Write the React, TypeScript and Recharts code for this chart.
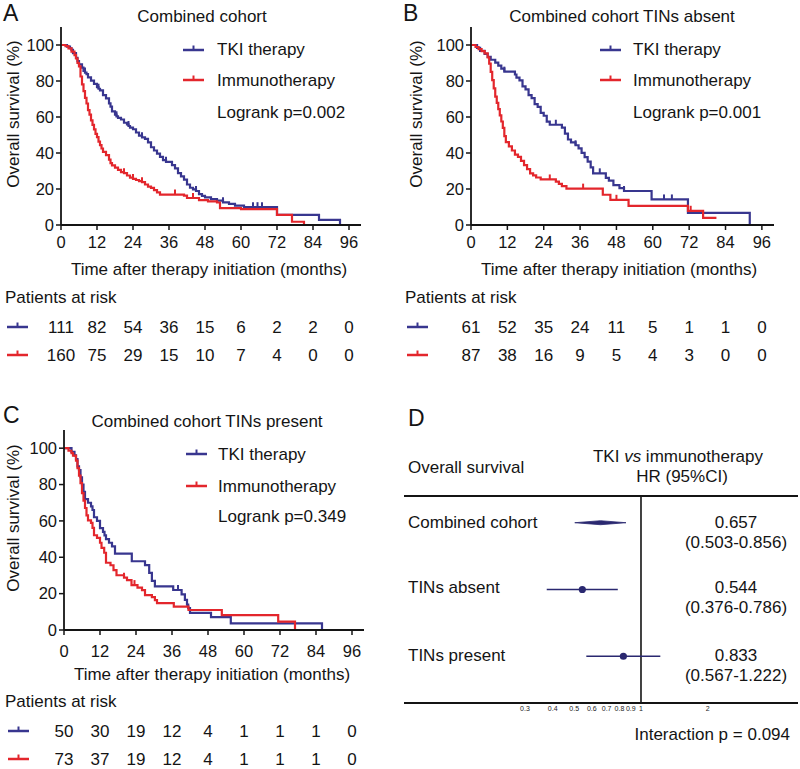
import React from 'react';
import {
  LineChart,
  Line,
  XAxis,
  YAxis,
  ComposedChart,
  Scatter,
  ErrorBar,
  Area,
  ReferenceLine,
} from 'recharts';

const FONT = "'Liberation Sans', Arial, Helvetica, sans-serif";
const INK = '#141414';
const BLUE = '#38368f';
const RED = '#e3262c';
const NAVY = '#2a2870';

const monthTicks = [0, 12, 24, 36, 48, 60, 72, 84, 96];
const survivalTicks = [0, 20, 40, 60, 80, 100];

// KM steps: [month, survival %, censored]
const aTki = [
  [0, 100], [2, 99.1], [3, 98.2], [3.5, 97.3], [4, 95.5], [5, 92.8], [5.5, 91], [6, 89.2], [7, 87.4],
  [7.5, 85.6], [8, 84.7, 1], [8.5, 83.8], [9, 82], [10, 80.2], [11, 78.4], [12, 76.6], [12.5, 75.7, 1],
  [13, 74.8], [14, 72.1], [15, 70.3], [16, 67.6], [16.5, 65.8], [17, 63.1], [18, 61.3], [18.5, 60.4, 1],
  [19, 59.5], [20, 58.6], [21, 56.8], [22, 55.9], [22.5, 55, 1], [23, 54.1], [24, 53.2], [25, 51.4],
  [26, 49.6], [27, 48.7, 1], [28, 47.8], [29, 45.9], [30, 43.2], [31, 41.4], [32, 39.6], [33, 37.8],
  [34, 36], [35, 35.1, 1], [37, 33.3], [38, 31.5], [39, 28.8], [40, 27], [41, 25.2], [42, 22.5],
  [43, 20.7], [44, 19.8], [45, 18.9, 1], [46, 17.1], [47, 16.2], [48, 15.3], [50, 14.4], [52, 13.5],
  [54, 12.6, 1], [56, 11.7], [58, 10.8], [61, 9.9], [64, 9.9, 1], [65.5, 9.9, 1], [67, 9.9, 1],
  [72, 5.6], [86, 2.8], [93, 0],
];
const aImmuno = [
  [0, 100], [1.5, 99.4], [2.5, 98.1], [3.5, 96.3], [4.5, 94.4], [5, 92.5], [5.5, 90], [6, 88.1],
  [6.5, 82.5], [7, 78.1], [7.5, 74.4], [8, 70.6], [8.5, 67.5], [9, 63.8], [9.5, 61.3], [10, 58.1],
  [10.5, 55.6], [11, 53.1], [11.5, 50.6], [12, 48.8], [12.5, 46.3], [13, 44.4], [13.5, 42.5], [14, 40.6],
  [15, 38.8], [16, 36.3], [16.5, 34.4], [17, 33.1], [18, 31.9], [19, 30.6], [20, 29.4], [21, 28.8, 1],
  [22, 27.5], [23, 26.3], [24, 25.6, 1], [25, 25], [26, 24.4], [27, 23.8, 1], [28, 22.5], [29, 21.3],
  [30, 20.6], [31, 19.4], [32, 18.1], [33, 16.9], [38, 16.9, 1], [41, 16.3], [42, 15], [44, 15, 1],
  [46, 13.8], [49, 13.1], [52, 12.5], [53, 9.4], [60, 8.8], [72, 5.6], [77, 1.8], [81, 0],
];
const bTki = [
  [0, 100], [2, 98.4], [3, 96.7], [4.5, 95.1], [5.5, 93.4], [6.5, 91.8], [8, 90.2], [9, 88.5], [10, 86.9],
  [11, 85.2, 1], [14.5, 83.6], [15, 81.9], [16, 80.3], [17, 77], [18, 75.4], [19, 72.1], [20, 70.5],
  [21, 67.2], [22, 65.6], [23, 62.3], [24, 60.7], [25, 57.4], [26, 55.7], [28, 55.7, 1], [30, 54.1],
  [31, 50.8], [32, 47.5], [33, 45.9], [34.5, 44.3, 1], [35.5, 42.6], [36.5, 40.1], [37.5, 37.7],
  [38.5, 35.2], [39.5, 32], [40.3, 28.7], [42.5, 28.7, 1], [44.5, 26.2], [45.5, 24.6], [47, 22.1],
  [49, 20.5], [50.5, 18.9, 1], [59.6, 14.2], [63.7, 14.2, 1], [66.3, 14.2, 1], [71.6, 6.7], [92, 0],
];
const bImmuno = [
  [0, 100], [1.5, 98.9], [2.5, 97.7], [3.5, 96.6], [4.5, 95.4], [5.5, 93.1], [6, 89.7], [6.5, 85.1],
  [7, 80.5], [7.5, 75.9], [8, 71.3], [8.5, 67.8], [9, 64.4], [9.5, 60.9], [10, 57.5], [10.5, 54],
  [11, 49.4], [11.5, 46], [12.5, 43.7], [13.5, 41.4], [14.5, 39.1], [15.5, 37.9], [16.5, 35.6],
  [17.5, 33.3], [18.5, 31], [19.5, 28.7], [20.5, 27.6], [21.5, 26.4], [23, 25.3], [26, 25.3, 1],
  [28, 24.1], [29, 22.9], [30, 21.6], [31.5, 20.2], [37, 20.2, 1], [43.5, 16.8], [46, 14], [48, 14, 1],
  [52, 10.6], [71.6, 7.9], [72.5, 7.9, 1], [76.6, 4], [81, 4],
];
const cTki = [
  [0, 100], [2.5, 98], [3.5, 96], [4, 94], [4.5, 90], [5, 88], [5.5, 84], [6, 80], [6.5, 76], [7, 72],
  [8, 70], [9, 68], [9.5, 66], [10, 62], [11, 60], [12, 56], [13, 54], [13.5, 52], [14, 50], [15, 48],
  [16, 46], [17, 42], [22.6, 37.8], [27, 35.7], [28.4, 31.4], [29.3, 27], [30.3, 24], [36.4, 22],
  [38, 22, 1], [39.2, 19.6], [40.3, 16.6], [41, 14, 1], [41.4, 12], [42, 9.4], [49, 7.1], [55.6, 3.6],
  [86, 0],
];
const cImmuno = [
  [0, 100], [1.5, 98.6], [2.5, 97.3], [3, 95.9], [4, 93.2], [4.5, 89], [5, 84.9], [5.5, 80.8], [6, 75.3],
  [6.5, 71.2], [7, 67.1], [7.5, 63], [8, 60.3], [9, 58.9], [9.5, 56.2], [10, 52.1], [11, 50.7], [12, 48],
  [12.5, 45.2], [13.4, 42.5], [14, 37], [15.5, 35.6], [16.5, 32.9], [17.5, 30.1], [20, 28.8, 1],
  [21, 27.4], [22.5, 24.7], [23.5, 24.7, 1], [24.5, 23.3], [26, 21.9], [27, 19.2], [29.3, 18.1],
  [30.3, 16.4], [31, 14.8], [36.6, 12.9], [41.5, 11], [52.6, 8.2], [71.4, 4.6], [77, 0],
];

const aRiskTki = [111, 82, 54, 36, 15, 6, 2, 2, 0];
const aRiskImmuno = [160, 75, 29, 15, 10, 7, 4, 0, 0];
const bRiskTki = [61, 52, 35, 24, 11, 5, 1, 1, 0];
const bRiskImmuno = [87, 38, 16, 9, 5, 4, 3, 0, 0];
const cRiskTki = [50, 30, 19, 12, 4, 1, 1, 1, 0];
const cRiskImmuno = [73, 37, 19, 12, 4, 1, 1, 1, 0];

const forestGroups = ['Combined cohort', 'TINs absent', 'TINs present'];
const forestHr = [0.657, 0.544, 0.833];
const forestLow = [0.503, 0.376, 0.567];
const forestHigh = [0.856, 0.786, 1.222];
const forestRow = [3, 2, 1];
const hrTicks = [0.3, 0.4, 0.5, 0.6, 0.7, 0.8, 0.9, 1, 2];

const toRows = (arr: number[][]) => arr.map(([t, s, c]) => ({ t, s, c: !!c }));

const censorDot = (color: string) => (p: any) => {
  if (!p.payload || !p.payload.c) return <g key={p.index} />;
  return (
    <path key={p.index} d={`M${p.cx},${p.cy} V${p.cy - 5}`} stroke={color} strokeWidth={2} />
  );
};

function Txt({ x, y, size = 17, anchor = 'start', children, style }: any) {
  const shift = anchor === 'middle' ? 'translateX(-50%)' : anchor === 'end' ? 'translateX(-100%)' : undefined;
  return (
    <div
      style={{
        position: 'absolute',
        left: x,
        top: y - size / 2,
        fontSize: size,
        lineHeight: `${size}px`,
        whiteSpace: 'nowrap',
        transform: shift,
        color: INK,
        ...style,
      }}
    >
      {children}
    </div>
  );
}

function Marker({ x, y, w = 21, color }: any) {
  return (
    <svg style={{ position: 'absolute', left: x, top: y - 6 }} width={w} height={9}>
      <line x1={0} x2={w} y1={6} y2={6} stroke={color} strokeWidth={2.5} />
      <line x1={w / 2} x2={w / 2} y1={6} y2={1.5} stroke={color} strokeWidth={2} />
    </svg>
  );
}

function YLabel({ x, y }: any) {
  return (
    <div
      style={{
        position: 'absolute',
        left: x,
        top: y,
        fontSize: 17,
        lineHeight: '17px',
        whiteSpace: 'nowrap',
        color: INK,
        transform: 'translate(-50%, -50%) rotate(-90deg)',
      }}
    >
      Overall survival (%)
    </div>
  );
}

function KmPanel(props: any) {
  const { left, top, width, height, margin, yAxisWidth, tki, immuno, riskTki, riskImmuno, labelDy, row1Dy, row2Dy } = props;
  const renderTick = (p: any) => {
    const i = monthTicks.indexOf(p.payload.value);
    return (
      <g key={`t${p.payload.value}`} fontFamily={FONT} fill={INK} textAnchor="middle">
        <text x={p.x} y={p.y + labelDy} fontSize={16.5}>{p.payload.value}</text>
        <text x={p.x} y={p.y + row1Dy} fontSize={17}>{riskTki[i]}</text>
        <text x={p.x} y={p.y + row2Dy} fontSize={17}>{riskImmuno[i]}</text>
      </g>
    );
  };
  return (
    <div style={{ position: 'absolute', left, top }}>
      <LineChart width={width} height={height} margin={margin}>
        <XAxis
          type="number"
          dataKey="t"
          domain={[0, 100]}
          ticks={monthTicks}
          interval={0}
          tickSize={5}
          tick={renderTick}
          height={30}
          allowDataOverflow
          axisLine={{ stroke: INK, strokeWidth: 1.8 }}
          tickLine={{ stroke: INK, strokeWidth: 1.5 }}
        />
        <YAxis
          type="number"
          domain={[0, 110]}
          ticks={survivalTicks}
          interval={0}
          tickSize={5}
          width={yAxisWidth}
          allowDataOverflow
          tick={{ fontSize: 16.5, fill: INK, fontFamily: FONT }}
          axisLine={{ stroke: INK, strokeWidth: 1.8 }}
          tickLine={{ stroke: INK, strokeWidth: 1.5 }}
        />
        <Line
          data={toRows(tki)}
          dataKey="s"
          type="stepAfter"
          stroke={BLUE}
          strokeWidth={2.2}
          dot={censorDot(BLUE)}
          activeDot={false}
          isAnimationActive={false}
        />
        <Line
          data={toRows(immuno)}
          dataKey="s"
          type="stepAfter"
          stroke={RED}
          strokeWidth={2.2}
          dot={censorDot(RED)}
          activeDot={false}
          isAnimationActive={false}
        />
      </LineChart>
    </div>
  );
}

function ForestPanel() {
  const points = forestGroups
    .map((name, i) => ({
      name,
      x: forestHr[i],
      y: forestRow[i],
      err: [forestHr[i] - forestLow[i], forestHigh[i] - forestHr[i]],
    }))
    .slice(1);
  // combined cohort drawn as a thin diamond spanning its CI
  const half = 0.03;
  const diamond = [
    { x: forestLow[0], r: [forestRow[0], forestRow[0]] },
    { x: forestHr[0], r: [forestRow[0] - half, forestRow[0] + half] },
    { x: forestHigh[0], r: [forestRow[0], forestRow[0]] },
  ];
  return (
    <div style={{ position: 'absolute', left: 400, top: 480 }}>
      <ComposedChart width={400} height={240} margin={{ top: 15, right: 2, left: 4, bottom: 3 }}>
        <XAxis
          type="number"
          dataKey="x"
          scale="log"
          domain={[0.0855, 5.1]}
          ticks={hrTicks}
          interval={0}
          tickSize={0}
          tickMargin={3}
          tickLine={false}
          height={14}
          allowDataOverflow
          tick={{ fontSize: 7, fill: '#222', fontFamily: FONT }}
          axisLine={{ stroke: INK, strokeWidth: 2.2 }}
        />
        <XAxis
          xAxisId="top"
          orientation="top"
          type="number"
          dataKey="x"
          scale="log"
          domain={[0.0855, 5.1]}
          tick={false}
          tickLine={false}
          height={1}
          allowDataOverflow
          axisLine={{ stroke: INK, strokeWidth: 2.2 }}
        />
        <YAxis type="number" dataKey="y" domain={[0.3, 3.4]} hide allowDataOverflow />
        <ReferenceLine x={1} stroke={INK} strokeWidth={1.6} />
        <Area
          data={diamond}
          dataKey="r"
          type="linear"
          stroke={NAVY}
          strokeWidth={0.8}
          fill={NAVY}
          fillOpacity={1}
          dot={false}
          activeDot={false}
          isAnimationActive={false}
        />
        <Scatter
          data={points}
          fill={NAVY}
          isAnimationActive={false}
          shape={(p: any) => <circle cx={p.cx} cy={p.cy} r={3.6} fill={NAVY} />}
        >
          <ErrorBar dataKey="err" direction="x" width={0} stroke={NAVY} strokeWidth={1.6} />
        </Scatter>
      </ComposedChart>
    </div>
  );
}

export default function App() {
  return (
    <div
      style={{
        position: 'absolute',
        left: 0,
        top: 0,
        width: 800,
        height: 769,
        background: '#fff',
        fontFamily: FONT,
        overflow: 'hidden',
      }}
    >
      {/* Panel A */}
      <KmPanel
        left={0}
        top={0}
        width={400}
        height={370}
        margin={{ top: 27, right: 39, left: 0, bottom: 115 }}
        yAxisWidth={61}
        tki={aTki}
        immuno={aImmuno}
        riskTki={aRiskTki}
        riskImmuno={aRiskImmuno}
        labelDy={16}
        row1Dy={101}
        row2Dy={129}
      />
      <Txt x={3} y={13} size={23}>A</Txt>
      <Txt x={202} y={16} anchor="middle">Combined cohort</Txt>
      <Marker x={183} y={50} color={BLUE} />
      <Marker x={183} y={80} color={RED} />
      <Txt x={217} y={49}>TKI therapy</Txt>
      <Txt x={217} y={80}>Immunotherapy</Txt>
      <Txt x={217} y={112}>Logrank p=0.002</Txt>
      <YLabel x={13} y={114} />
      <Txt x={209} y={269} anchor="middle">Time after therapy initiation (months)</Txt>
      <Txt x={5} y={297}>Patients at risk</Txt>
      <Marker x={7} y={327} color={BLUE} />
      <Marker x={7} y={355} color={RED} />

      {/* Panel B */}
      <KmPanel
        left={400}
        top={0}
        width={400}
        height={370}
        margin={{ top: 27, right: 26, left: 0, bottom: 115 }}
        yAxisWidth={71}
        tki={bTki}
        immuno={bImmuno}
        riskTki={bRiskTki}
        riskImmuno={bRiskImmuno}
        labelDy={16}
        row1Dy={101}
        row2Dy={129}
      />
      <Txt x={403} y={13} size={23}>B</Txt>
      <Txt x={622} y={16} anchor="middle">Combined cohort TINs absent</Txt>
      <Marker x={600} y={50} color={BLUE} />
      <Marker x={600} y={80} color={RED} />
      <Txt x={633} y={49}>TKI therapy</Txt>
      <Txt x={633} y={80}>Immunotherapy</Txt>
      <Txt x={633} y={112}>Logrank p=0.001</Txt>
      <YLabel x={416} y={114} />
      <Txt x={619} y={269} anchor="middle">Time after therapy initiation (months)</Txt>
      <Txt x={405} y={297}>Patients at risk</Txt>
      <Marker x={407} y={327} color={BLUE} />
      <Marker x={407} y={355} color={RED} />

      {/* Panel C */}
      <KmPanel
        left={0}
        top={380}
        width={400}
        height={389}
        margin={{ top: 50, right: 36, left: 0, bottom: 109 }}
        yAxisWidth={64}
        tki={cTki}
        immuno={cImmuno}
        riskTki={cRiskTki}
        riskImmuno={cRiskImmuno}
        labelDy={20}
        row1Dy={100}
        row2Dy={128}
      />
      <Txt x={3} y={415} size={23}>C</Txt>
      <Txt x={207} y={421} anchor="middle">Combined cohort TINs present</Txt>
      <Marker x={186} y={454} color={BLUE} />
      <Marker x={186} y={486} color={RED} />
      <Txt x={218} y={454}>TKI therapy</Txt>
      <Txt x={218} y={486}>Immunotherapy</Txt>
      <Txt x={218} y={516}>Logrank p=0.349</Txt>
      <YLabel x={13} y={518} />
      <Txt x={212} y={674} anchor="middle">Time after therapy initiation (months)</Txt>
      <Txt x={5} y={701}>Patients at risk</Txt>
      <Marker x={8} y={731} color={BLUE} />
      <Marker x={8} y={759} color={RED} />

      {/* Panel D */}
      <ForestPanel />
      <Txt x={408} y={418} size={23}>D</Txt>
      <Txt x={408} y={467}>Overall survival</Txt>
      <Txt x={678} y={456} anchor="middle">
        TKI <i>vs</i> immunotherapy
      </Txt>
      <Txt x={682} y={476} anchor="middle">HR (95%CI)</Txt>
      {forestGroups.map((g, i) => {
        const rowY = [522, 587, 655][i];
        return (
          <React.Fragment key={g}>
            <Txt x={408} y={rowY}>{g}</Txt>
            <Txt x={736} y={rowY} anchor="middle">{forestHr[i].toFixed(3)}</Txt>
            <Txt x={736} y={rowY + 20} anchor="middle">
              ({forestLow[i].toFixed(3)}-{forestHigh[i].toFixed(3)})
            </Txt>
          </React.Fragment>
        );
      })}
      <Txt x={790} y={734} anchor="end">Interaction p = 0.094</Txt>
    </div>
  );
}
